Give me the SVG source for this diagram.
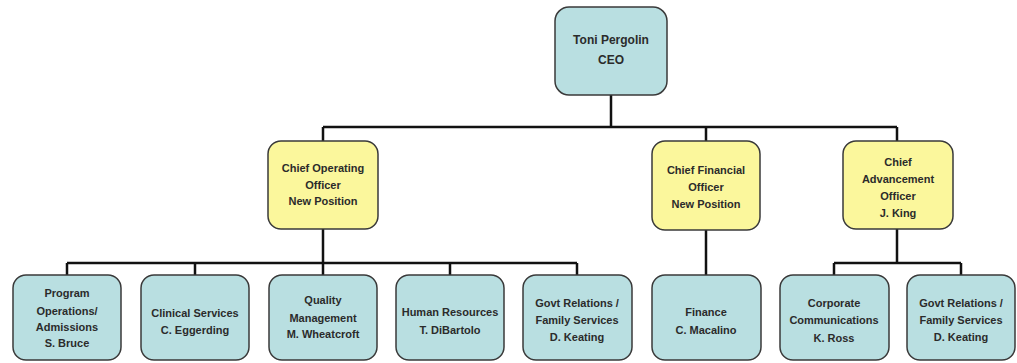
<svg xmlns="http://www.w3.org/2000/svg" width="1017" height="363" viewBox="0 0 1017 363">
<style>
.box{stroke:#3a3a3a;stroke-width:1.5}
.teal{fill:#b9dfe1}
.yel{fill:#fbf79c}
.t{font-family:"Liberation Sans",Arial,sans-serif;font-weight:bold;font-size:11px;fill:#2b2b2b;text-anchor:middle}
.big{font-size:12px}
.c{stroke:#111;stroke-width:2.5;fill:none}
</style>
<rect width="1017" height="363" fill="#ffffff"/>
<g id="connectors">
<path class="c" d="M611 95V127M323 127H897M323 127V141M706 127V141M897 127V141"/>
<path class="c" d="M323 229V263M67 263H577M67 263V275M195 263V275M323 263V275M450 263V275M577 263V275"/>
<path class="c" d="M706 230V275"/>
<path class="c" d="M897 229V263M834 263H961M834 263V275M961 263V275"/>
</g>
<g id="ceo"><rect class="box teal" x="555" y="7" width="112" height="88" rx="14"/>
<text class="t big" x="611" y="44">Toni Pergolin</text><text class="t big" x="611" y="64">CEO</text></g>
<g id="coo"><rect class="box yel" x="268" y="141" width="110" height="88" rx="13"/>
<text class="t" x="323" y="172">Chief Operating</text><text class="t" x="323" y="189">Officer</text><text class="t" x="323" y="205">New Position</text></g>
<g id="cfo"><rect class="box yel" x="652" y="141" width="108" height="89" rx="13"/>
<text class="t" x="706" y="174">Chief Financial</text><text class="t" x="706" y="191">Officer</text><text class="t" x="706" y="208">New Position</text></g>
<g id="cao"><rect class="box yel" x="843" y="141" width="110" height="88" rx="13"/>
<text class="t" x="898" y="166">Chief</text><text class="t" x="898" y="183">Advancement</text><text class="t" x="898" y="200">Officer</text><text class="t" x="898" y="217">J. King</text></g>
<g id="program"><rect class="box teal" x="13" y="275" width="108" height="85" rx="13"/>
<text class="t" x="67" y="297">Program</text><text class="t" x="67" y="315">Operations/</text><text class="t" x="67" y="331">Admissions</text><text class="t" x="67" y="347">S. Bruce</text></g>
<g id="clinical"><rect class="box teal" x="141" y="275" width="108" height="85" rx="13"/>
<text class="t" x="195" y="317">Clinical Services</text><text class="t" x="195" y="334">C. Eggerding</text></g>
<g id="quality"><rect class="box teal" x="269" y="275" width="108" height="85" rx="13"/>
<text class="t" x="323" y="304">Quality</text><text class="t" x="323" y="322">Management</text><text class="t" x="323" y="338">M. Wheatcroft</text></g>
<g id="hr"><rect class="box teal" x="396" y="275" width="108" height="85" rx="13"/>
<text class="t" x="450" y="316">Human Resources</text><text class="t" x="450" y="334">T. DiBartolo</text></g>
<g id="govt1"><rect class="box teal" x="523" y="275" width="109" height="85" rx="13"/>
<text class="t" x="577" y="307">Govt Relations /</text><text class="t" x="577" y="324">Family Services</text><text class="t" x="577" y="341">D. Keating</text></g>
<g id="finance"><rect class="box teal" x="652" y="275" width="109" height="85" rx="13"/>
<text class="t" x="706" y="316">Finance</text><text class="t" x="706" y="334">C. Macalino</text></g>
<g id="corp"><rect class="box teal" x="780" y="275" width="109" height="85" rx="13"/>
<text class="t" x="834" y="307">Corporate</text><text class="t" x="834" y="324">Communications</text><text class="t" x="834" y="342">K. Ross</text></g>
<g id="govt2"><rect class="box teal" x="907" y="275" width="108" height="85" rx="13"/>
<text class="t" x="961" y="307">Govt Relations /</text><text class="t" x="961" y="324">Family Services</text><text class="t" x="961" y="341">D. Keating</text></g>
</svg>
